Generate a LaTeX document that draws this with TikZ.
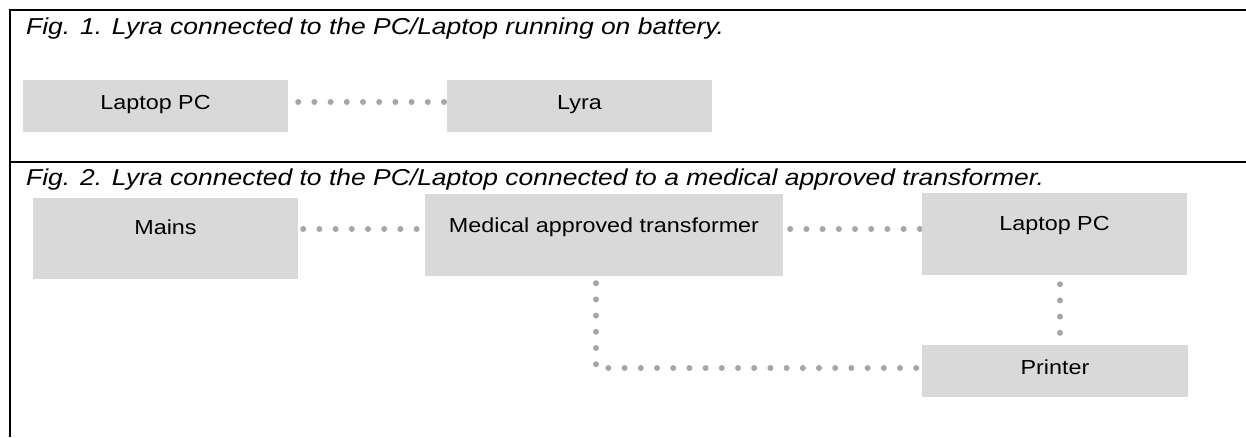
\documentclass[tikz,border=0pt]{standalone}
\usepackage{fontspec}
\setmainfont{Liberation Sans}[FakeStretch=1.15]
\usetikzlibrary{backgrounds}
\definecolor{boxgray}{HTML}{D9D9D9}
\definecolor{dotgray}{HTML}{A6A6A6}
\begin{document}
\begin{tikzpicture}[x=1pt,y=-1pt,
  rule/.style={draw=black,line width=2pt},
  captext/.style={anchor=base west,inner sep=0pt,font=\fontsize{23}{27}\selectfont\itshape},
  blk/.style={fill=boxgray,draw=none,inner sep=0pt,font=\fontsize{20.3}{24}\selectfont},
  dotline/.style={draw=dotgray,line width=6pt,line cap=round,dash pattern=on 0pt off 16.2pt}]
\useasboundingbox (0,0) rectangle (1246,437);
% table rules
\draw[rule] (9,10) -- (1246,10);
\draw[rule] (10,9) -- (10,437);
\draw[rule] (9,162) -- (1246,162);
% captions
\node[captext] (cap1) at (26,34) {Fig. 1. Lyra connected to the PC/Laptop running on battery.};
\node[captext] (cap2) at (26,185) {Fig. 2. Lyra connected to the PC/Laptop connected to a medical approved transformer.};
% Fig 1 boxes
\node[blk,minimum width=265pt,minimum height=52pt,text depth=7pt] (lp1) at (155.5,106) {Laptop PC};
\node[blk,minimum width=265pt,minimum height=52pt,text depth=7pt] (lyra) at (579.5,106) {Lyra};
% Fig 2 boxes
\node[blk,minimum width=265pt,minimum height=81pt,text depth=22pt] (mains) at (165.5,238.5) {Mains};
\node[blk,minimum width=358pt,minimum height=82pt,text depth=20pt] (med) at (604,235) {Medical approved transformer};
\node[blk,minimum width=265pt,minimum height=82pt,text depth=22pt] (lp2) at (1054.5,234) {Laptop PC};
\node[blk,minimum width=266pt,minimum height=52pt,text depth=7pt] (prn) at (1055,371) {Printer};
\coordinate (corner) at (596,368);
\begin{scope}[on background layer]
\draw[dotline,shorten <=10pt] ([yshift=4pt]lp1.east) -- ([yshift=4pt]lyra.west);
\draw[dotline,shorten <=5pt] ([yshift=9.5pt]mains.east) -- ([yshift=6pt]med.west);
\draw[dotline,shorten <=7pt] ([yshift=6pt]med.east) -- ([yshift=5pt]lp2.west);
\draw[dotline,shorten <=7pt] ([xshift=-8pt]med.south) -- (corner) -- (prn.west |- corner);
\draw[dotline,shorten <=9pt] ([xshift=5.5pt]lp2.south) -- ([xshift=5pt]prn.north);
\end{scope}
\end{tikzpicture}
\end{document}
